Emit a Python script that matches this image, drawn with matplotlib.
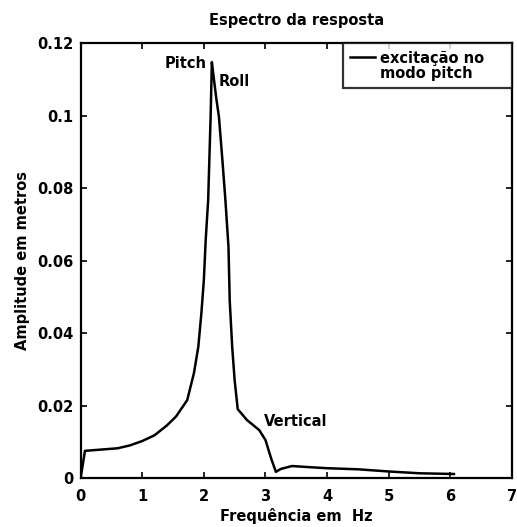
import matplotlib.pyplot as plt
from matplotlib.lines import Line2D

# spectrum
freq = [0.0, 0.07, 0.08, 0.3, 0.6, 0.8, 1.0, 1.2, 1.4, 1.55, 1.73, 1.84, 1.91,
        1.96, 2.0, 2.03, 2.07, 2.11, 2.13, 2.15, 2.2, 2.245, 2.3, 2.35, 2.4,
        2.42, 2.46, 2.5, 2.55, 2.7, 2.9, 3.0, 3.1, 3.17, 3.25, 3.43, 3.7, 4.0,
        4.5, 5.0, 5.5, 6.06]
amp = [0.0, 0.0075, 0.0075, 0.0078, 0.0082, 0.0090, 0.0102, 0.0118, 0.0145,
       0.0170, 0.0215, 0.029, 0.0362, 0.0455, 0.0546, 0.0657, 0.0767, 0.0997,
       0.1148, 0.112, 0.105, 0.0997, 0.088, 0.0767, 0.0638, 0.049, 0.0362,
       0.027, 0.019, 0.016, 0.0132, 0.0105, 0.005, 0.0017, 0.0025, 0.0033,
       0.0030, 0.0027, 0.0024, 0.0018, 0.0013, 0.0011]

xticks = [0, 1, 2, 3, 4, 5, 6, 7]
yticks = [0, 0.02, 0.04, 0.06, 0.08, 0.1, 0.12]
ytick_labels = ["0", "0.02", "0.04", "0.06", "0.08", "0.1", "0.12"]

plt.rcParams['font.family'] = ['DejaVu Sans']
plt.rcParams['font.weight'] = 'bold'

fig = plt.figure(figsize=(5.17, 5.27), dpi=100)
ax = fig.add_axes([0.156, 0.093, 0.834, 0.825])
line, = ax.plot(freq, amp, color='black', linewidth=1.8)

ax.set_xlim(0, 7)
ax.set_ylim(0, 0.12)
ax.set_xticks(xticks)
ax.set_yticks(yticks)
ax.set_yticklabels(ytick_labels)
ax.tick_params(direction='in', top=True, right=True, labelsize=10.5, length=4, width=1.2)
ax.tick_params(axis='x', pad=8)
ax.tick_params(axis='y', pad=5)
for s in ax.spines.values():
    s.set_linewidth(1.6)

ax.set_title("Espectro da resposta", fontsize=10.5, fontweight='bold', pad=13)
ax.set_xlabel("Frequência em  Hz", fontsize=10.5, fontweight='bold', labelpad=3)
ax.set_ylabel("Amplitude em metros", fontsize=10.5, fontweight='bold', labelpad=5)

ax.text(1.36, 0.1145, "Pitch", fontsize=10.5, fontweight='bold', va='center')
ax.text(2.24, 0.1095, "Roll", fontsize=10.5, fontweight='bold', va='center')
ax.text(2.97, 0.0155, "Vertical", fontsize=10.5, fontweight='bold', va='center')

# sample line on the first row only, like the original
blank = Line2D([], [], color='none')
leg = ax.legend([line, blank], ["excitação no    ", "modo pitch"], loc='upper right',
                fontsize=10.5, frameon=True, fancybox=False, borderaxespad=0,
                handlelength=1.7, borderpad=0.5, labelspacing=0.0,
                handletextpad=0.35)
leg.get_frame().set_edgecolor('black')
leg.get_frame().set_linewidth(1.6)

fig.savefig("out.png", dpi=100)
